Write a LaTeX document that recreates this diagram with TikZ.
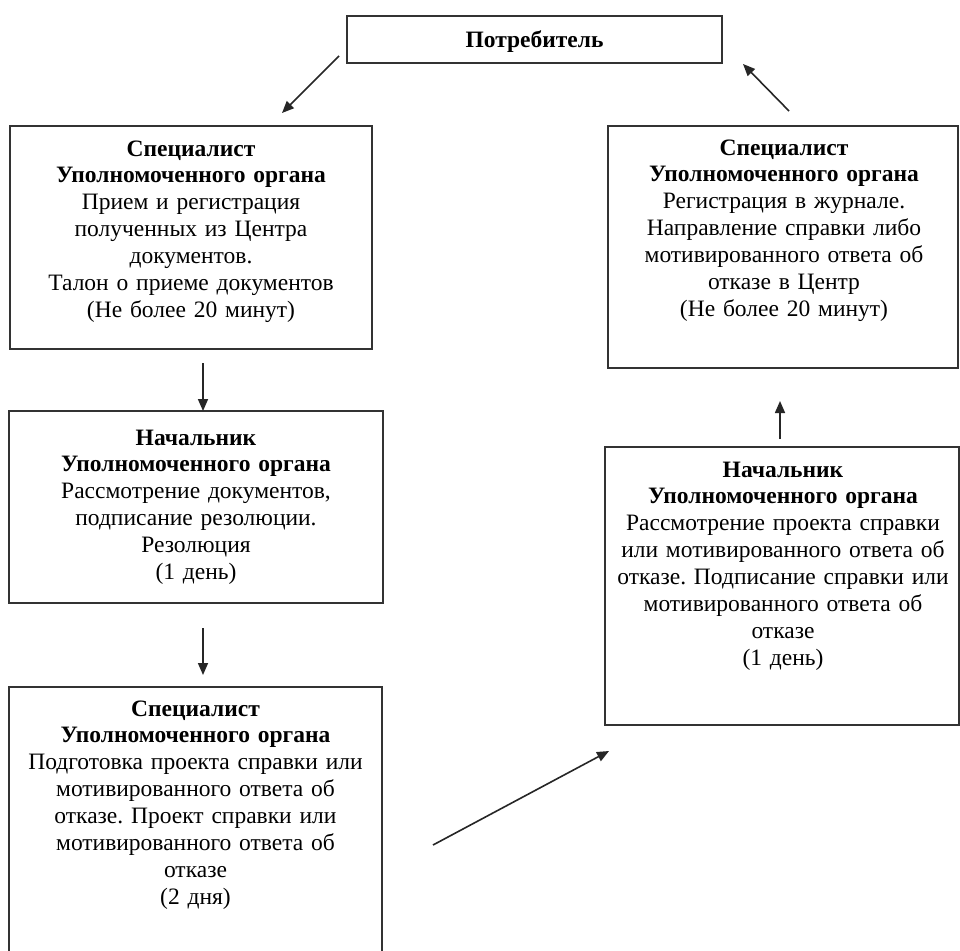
\documentclass[tikz,border=0pt]{standalone}
\usepackage{fontspec}
\setmainfont{Liberation Serif}
\usetikzlibrary{arrows.meta}
\frenchspacing
\tikzset{
  boxframe/.style={draw=black!80, line width=1.7pt, fill=none},
  boxtext/.style={anchor=base, inner sep=0pt, text width=340pt, align=center,
    font=\fontsize{23.5}{26.9}\selectfont},
  conn/.style={draw=black!85, line width=1.6pt, -{Triangle[length=12pt,width=10pt]}},
}
\begin{document}
\begin{tikzpicture}[x=1pt,y=-1pt]
\clip (0,0) rectangle (960,950);
\fill[white] (0,0) rectangle (960,950);
% boxes
\draw[boxframe] (347,16) rectangle (722,63);
\node[inner sep=0pt, anchor=base, font=\fontsize{23.5}{26.9}\selectfont\bfseries] (top) at (534.5,48) {Потребитель};

\draw[boxframe] (10,126) rectangle (372,349);
\node[boxtext] (t1) at (191,156) {\textbf{Специалист}\\\textbf{Уполномоченного органа}\\Прием и регистрация\\полученных из Центра\\документов.\\Талон о приеме документов\\(Не более 20 минут)};

\draw[boxframe] (608,126) rectangle (958,368);
\node[boxtext] (t2) at (784,155) {\textbf{Специалист}\\\textbf{Уполномоченного органа}\\Регистрация в журнале.\\Направление справки либо\\мотивированного ответа об\\отказе в Центр\\(Не более 20 минут)};

\draw[boxframe] (9,411) rectangle (383,603);
\node[boxtext] (t3) at (196,445) {\textbf{Начальник}\\\textbf{Уполномоченного органа}\\Рассмотрение документов,\\подписание резолюции.\\Резолюция\\(1 день)};

\draw[boxframe] (605,447) rectangle (959,725);
\node[boxtext] (t4) at (783,477) {\textbf{Начальник}\\\textbf{Уполномоченного органа}\\Рассмотрение проекта справки\\или мотивированного ответа об\\отказе. Подписание справки или\\мотивированного ответа об\\отказе\\(1 день)};

\draw[boxframe] (9,687) rectangle (382,970);
\node[boxtext] (t5) at (195.5,716) {\textbf{Специалист}\\\textbf{Уполномоченного органа}\\Подготовка проекта справки или\\мотивированного ответа об\\отказе. Проект справки или\\мотивированного ответа об\\отказе\\(2 дня)};

% connector end points
\coordinate (a1s) at (339,56);   \coordinate (a1e) at (282,113);
\coordinate (a2s) at (789,111);  \coordinate (a2e) at (743,64);
\coordinate (a3s) at (203,363);  \coordinate (a3e) at (203,411);
\coordinate (a4s) at (203,628);  \coordinate (a4e) at (203,675);
\coordinate (a5s) at (780,439);  \coordinate (a5e) at (780,401);
\coordinate (a6s) at (433,845);  \coordinate (a6e) at (609,751);

\draw[conn] (a1s) -- (a1e);
\draw[conn] (a2s) -- (a2e);
\draw[conn] (a3s) -- (a3e);
\draw[conn] (a4s) -- (a4e);
\draw[conn] (a5s) -- (a5e);
\draw[conn] (a6s) -- (a6e);
\end{tikzpicture}
\end{document}
